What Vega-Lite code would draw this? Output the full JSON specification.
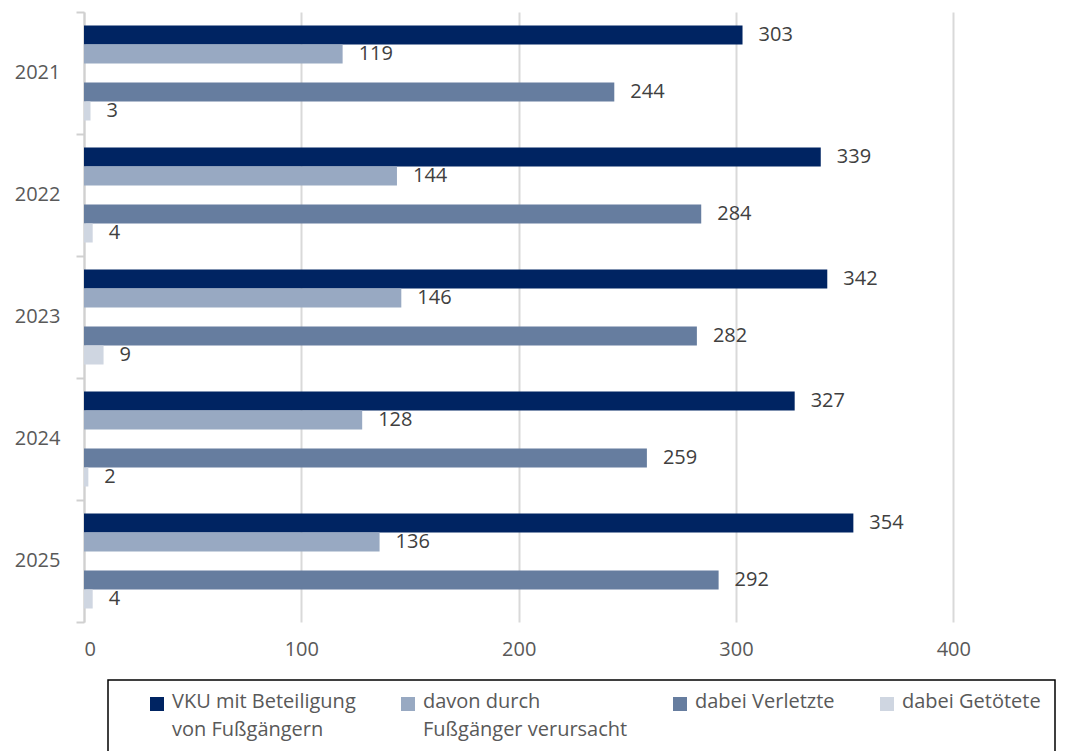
{
  "$schema": "https://vega.github.io/schema/vega-lite/v6.json",
  "width": 978,
  "height": 610,
  "autosize": "none",
  "padding": {"left": 84, "top": 12, "right": 5, "bottom": 129},
  "background": "white",
  "config": {
    "font": "Open Sans",
    "view": {"stroke": null}
  },
  "data": {
    "values": [
      {"Jahr": "2021", "Serie": "VKU mit Beteiligung von Fußgängern", "Wert": 303},
      {"Jahr": "2021", "Serie": "davon durch Fußgänger verursacht", "Wert": 119},
      {"Jahr": "2021", "Serie": "dabei Verletzte", "Wert": 244},
      {"Jahr": "2021", "Serie": "dabei Getötete", "Wert": 3},
      {"Jahr": "2022", "Serie": "VKU mit Beteiligung von Fußgängern", "Wert": 339},
      {"Jahr": "2022", "Serie": "davon durch Fußgänger verursacht", "Wert": 144},
      {"Jahr": "2022", "Serie": "dabei Verletzte", "Wert": 284},
      {"Jahr": "2022", "Serie": "dabei Getötete", "Wert": 4},
      {"Jahr": "2023", "Serie": "VKU mit Beteiligung von Fußgängern", "Wert": 342},
      {"Jahr": "2023", "Serie": "davon durch Fußgänger verursacht", "Wert": 146},
      {"Jahr": "2023", "Serie": "dabei Verletzte", "Wert": 282},
      {"Jahr": "2023", "Serie": "dabei Getötete", "Wert": 9},
      {"Jahr": "2024", "Serie": "VKU mit Beteiligung von Fußgängern", "Wert": 327},
      {"Jahr": "2024", "Serie": "davon durch Fußgänger verursacht", "Wert": 128},
      {"Jahr": "2024", "Serie": "dabei Verletzte", "Wert": 259},
      {"Jahr": "2024", "Serie": "dabei Getötete", "Wert": 2},
      {"Jahr": "2025", "Serie": "VKU mit Beteiligung von Fußgängern", "Wert": 354},
      {"Jahr": "2025", "Serie": "davon durch Fußgänger verursacht", "Wert": 136},
      {"Jahr": "2025", "Serie": "dabei Verletzte", "Wert": 292},
      {"Jahr": "2025", "Serie": "dabei Getötete", "Wert": 4}
    ]
  },
  "encoding": {
    "y": {
      "field": "Jahr",
      "type": "nominal",
      "sort": "ascending",
      "title": null,
      "scale": {"paddingInner": 0, "paddingOuter": 0},
      "axis": {
        "bandPosition": 1,
        "tickExtra": true,
        "domainColor": "#d0d0d0",
        "domainWidth": 2,
        "tickColor": "#d0d0d0",
        "tickWidth": 2,
        "tickSize": 8,
        "labelFontSize": 20,
        "labelColor": "#595959",
        "labelPadding": 16,
        "grid": false
      }
    },
    "yOffset": {
      "field": "Serie",
      "type": "nominal",
      "scale": {
        "domain": ["VKU mit Beteiligung von Fußgängern", "davon durch Fußgänger verursacht", "_gap", "dabei Verletzte", "dabei Getötete"],
        "paddingInner": 0,
        "paddingOuter": 0.71
      }
    },
    "x": {
      "field": "Wert",
      "type": "quantitative",
      "title": null,
      "scale": {"domain": [0, 450], "nice": false},
      "axis": {
        "values": [0, 100, 200, 300, 400],
        "domain": false,
        "ticks": false,
        "grid": true,
        "gridColor": "#d9d9d9",
        "gridWidth": 2,
        "labelFontSize": 20,
        "labelColor": "#595959",
        "labelPadding": 17
      }
    }
  },
  "layer": [
    {
      "mark": {"type": "bar"},
      "encoding": {
        "color": {
          "field": "Serie",
          "type": "nominal",
          "scale": {
            "domain": ["VKU mit Beteiligung von Fußgängern", "davon durch Fußgänger verursacht", "dabei Verletzte", "dabei Getötete"],
            "range": ["#002462", "#98a9c2", "#667d9f", "#cfd6e1"]
          },
          "legend": {
            "title": "\u00a0",
            "titleOrient": "left",
            "titlePadding": 25,
            "titleFontSize": 18,
            "orient": "none",
            "legendX": 24,
            "legendY": 668,
            "direction": "horizontal",
            "columns": 4,
            "columnPadding": 42,
            "padding": 14,
            "strokeColor": "#000000",
            "symbolType": "square",
            "symbolSize": 196,
            "symbolStrokeWidth": 0,
            "labelFontSize": 20,
            "labelColor": "#595959",
            "labelLimit": 400,
            "labelBaseline": "top",
            "labelOffset": 5,
            "labelExpr": "datum.label == 'VKU mit Beteiligung von Fußgängern' ? ['VKU mit Beteiligung', 'von Fußgängern'] : datum.label == 'davon durch Fußgänger verursacht' ? ['davon durch', 'Fußgänger verursacht'] : datum.label == 'dabei Getötete' ? ['dabei Getötete\u00a0\u00a0\u00a0\u00a0\u00a0\u00a0\u00a0\u00a0', '\u00a0'] : [datum.label, '\u00a0']",
            "encode": {
              "legend": {"update": {"strokeWidth": {"value": 1.5}}},
              "labels": {"update": {"dy": {"value": -12}, "lineHeight": {"value": 28}}}
            }
          }
        }
      }
    },
    {
      "mark": {"type": "text", "align": "left", "baseline": "middle", "dx": 16, "fontSize": 20, "color": "#404040"},
      "encoding": {
        "text": {"field": "Wert", "type": "quantitative"}
      }
    }
  ]
}
